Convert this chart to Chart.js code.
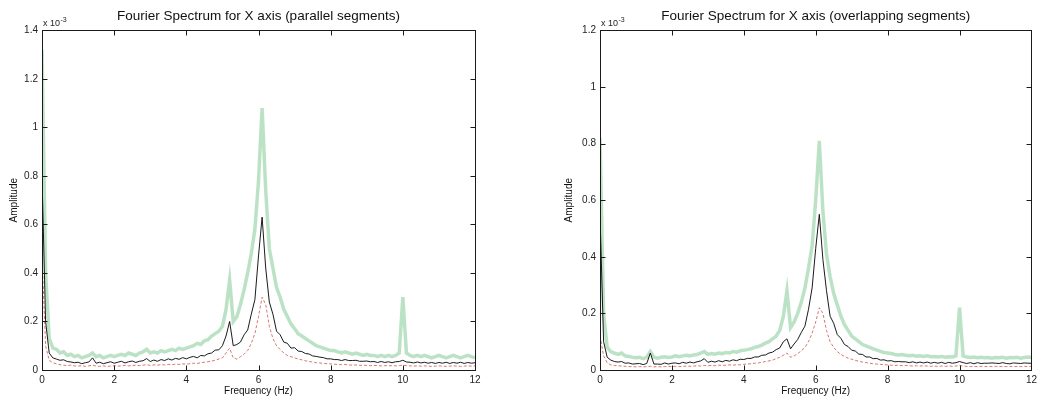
<!DOCTYPE html>
<html>
<head>
<meta charset="utf-8">
<script src="https://cdn.jsdelivr.net/npm/chart.js@4.4.1/dist/chart.umd.min.js"></script>
<style>
  html, body { margin: 0; padding: 0; background: #fff; }
  .panel { position: absolute; top: 0; height: 399px; }
  #p1 { left: 0; width: 490px; }
  #p2 { left: 555px; width: 486px; }
</style>
</head>
<body>
<div class="panel" id="p1"><canvas id="c1"></canvas></div>
<div class="panel" id="p2"><canvas id="c2"></canvas></div>
<script>
// Frequency bins (Hz)
const freq = [
  0.0,0.1,0.2,0.3,0.4,0.5,0.6,0.7,0.8,0.9,
  1.0,1.1,1.2,1.3,1.4,1.5,1.6,1.7,1.8,1.9,
  2.0,2.1,2.2,2.3,2.4,2.5,2.6,2.7,2.8,2.9,
  3.0,3.1,3.2,3.3,3.4,3.5,3.6,3.7,3.8,3.9,
  4.0,4.1,4.2,4.3,4.4,4.5,4.6,4.7,4.8,4.9,
  5.0,5.1,5.2,5.3,5.4,5.5,5.6,5.7,5.8,5.9,
  6.0,6.1,6.2,6.3,6.4,6.5,6.6,6.7,6.8,6.9,
  7.0,7.1,7.2,7.3,7.4,7.5,7.6,7.7,7.8,7.9,
  8.0,8.1,8.2,8.3,8.4,8.5,8.6,8.7,8.8,8.9,
  9.0,9.1,9.2,9.3,9.4,9.5,9.6,9.7,9.8,9.9,
  10.0,10.1,10.2,10.3,10.4,10.5,10.6,10.7,10.8,10.9,
  11.0,11.1,11.2,11.3,11.4,11.5,11.6,11.7,11.8,11.9,
  12.0
];

// Amplitudes in units of 1e-3 — parallel segments
const parallelUpper = [
  1.32,0.40,0.13,0.09,0.085,0.07,0.075,0.06,0.065,0.055,
  0.06,0.05,0.055,0.06,0.07,0.055,0.06,0.05,0.055,0.06,
  0.055,0.06,0.065,0.06,0.07,0.065,0.06,0.07,0.075,0.085,
  0.07,0.075,0.07,0.08,0.075,0.08,0.085,0.08,0.09,0.085,
  0.09,0.095,0.10,0.11,0.105,0.12,0.125,0.14,0.15,0.16,
  0.18,0.25,0.37,0.20,0.22,0.27,0.33,0.40,0.48,0.58,
  0.78,1.08,0.74,0.50,0.42,0.34,0.30,0.25,0.22,0.19,
  0.17,0.15,0.14,0.13,0.12,0.11,0.10,0.095,0.09,0.085,
  0.08,0.08,0.075,0.07,0.075,0.07,0.065,0.07,0.065,0.06,
  0.065,0.06,0.06,0.055,0.06,0.055,0.06,0.055,0.06,0.07,
  0.30,0.07,0.06,0.055,0.06,0.055,0.06,0.055,0.05,0.055,
  0.06,0.055,0.05,0.055,0.06,0.055,0.05,0.055,0.06,0.055,
  0.05
];
const parallelMean = [
  0.80,0.20,0.07,0.05,0.045,0.04,0.042,0.035,0.033,0.03,
  0.032,0.026,0.03,0.033,0.05,0.028,0.032,0.026,0.03,0.034,
  0.028,0.032,0.036,0.029,0.034,0.037,0.031,0.036,0.038,0.047,
  0.035,0.041,0.036,0.043,0.039,0.046,0.041,0.048,0.044,0.051,
  0.046,0.052,0.056,0.05,0.06,0.058,0.067,0.07,0.082,0.083,
  0.10,0.14,0.20,0.10,0.105,0.115,0.145,0.165,0.23,0.29,
  0.47,0.63,0.42,0.28,0.23,0.16,0.145,0.115,0.11,0.09,
  0.092,0.078,0.076,0.068,0.066,0.058,0.056,0.053,0.051,0.046,
  0.046,0.043,0.043,0.039,0.043,0.039,0.039,0.04,0.036,0.036,
  0.037,0.034,0.035,0.031,0.035,0.031,0.034,0.03,0.034,0.035,
  0.04,0.033,0.032,0.029,0.033,0.029,0.032,0.028,0.031,0.027,
  0.031,0.028,0.032,0.027,0.031,0.028,0.032,0.027,0.031,0.028,
  0.03
];
const parallelLower = [
  0.47,0.10,0.04,0.03,0.025,0.022,0.02,0.018,0.02,0.017,
  0.016,0.018,0.015,0.017,0.02,0.016,0.015,0.017,0.015,0.016,
  0.018,0.016,0.017,0.019,0.017,0.018,0.02,0.018,0.02,0.022,
  0.019,0.021,0.02,0.022,0.021,0.023,0.022,0.024,0.023,0.025,
  0.024,0.026,0.028,0.027,0.03,0.032,0.034,0.037,0.04,0.045,
  0.05,0.07,0.09,0.05,0.045,0.055,0.065,0.08,0.11,0.15,
  0.22,0.30,0.27,0.18,0.13,0.10,0.085,0.07,0.06,0.055,
  0.05,0.045,0.042,0.038,0.035,0.033,0.03,0.029,0.027,0.026,
  0.025,0.024,0.023,0.022,0.023,0.021,0.02,0.021,0.019,0.02,
  0.019,0.018,0.019,0.018,0.017,0.018,0.017,0.018,0.017,0.018,
  0.02,0.018,0.017,0.016,0.017,0.016,0.017,0.016,0.015,0.016,
  0.017,0.016,0.015,0.016,0.017,0.016,0.015,0.016,0.017,0.016,
  0.017
];

// Amplitudes in units of 1e-3 — overlapping segments
const overlapUpper = [
  0.82,0.20,0.08,0.065,0.06,0.055,0.06,0.05,0.048,0.045,
  0.043,0.045,0.04,0.045,0.065,0.045,0.042,0.045,0.047,0.044,
  0.046,0.05,0.047,0.05,0.052,0.05,0.053,0.055,0.06,0.065,
  0.055,0.058,0.056,0.06,0.058,0.062,0.06,0.065,0.063,0.068,
  0.07,0.072,0.075,0.08,0.083,0.088,0.095,0.10,0.11,0.12,
  0.14,0.19,0.28,0.15,0.17,0.20,0.24,0.29,0.36,0.44,
  0.60,0.81,0.56,0.41,0.33,0.27,0.23,0.19,0.16,0.14,
  0.12,0.11,0.10,0.09,0.085,0.08,0.075,0.07,0.066,0.062,
  0.06,0.058,0.055,0.053,0.055,0.052,0.05,0.052,0.049,0.05,
  0.048,0.05,0.047,0.048,0.046,0.048,0.045,0.047,0.046,0.05,
  0.22,0.05,0.046,0.044,0.046,0.043,0.045,0.043,0.044,0.042,
  0.044,0.043,0.045,0.042,0.044,0.043,0.045,0.042,0.044,0.046,
  0.044
];
const overlapMean = [
  0.55,0.10,0.045,0.035,0.03,0.028,0.03,0.024,0.025,0.021,
  0.022,0.023,0.019,0.023,0.06,0.021,0.021,0.02,0.025,0.021,
  0.024,0.025,0.022,0.027,0.024,0.028,0.025,0.029,0.032,0.04,
  0.027,0.031,0.028,0.033,0.029,0.034,0.031,0.036,0.033,0.038,
  0.037,0.041,0.041,0.046,0.046,0.052,0.053,0.06,0.063,0.072,
  0.078,0.10,0.11,0.075,0.092,0.108,0.133,0.155,0.215,0.29,
  0.43,0.55,0.39,0.28,0.19,0.165,0.125,0.112,0.09,0.083,
  0.07,0.067,0.056,0.055,0.046,0.046,0.04,0.041,0.035,0.036,
  0.032,0.033,0.029,0.03,0.029,0.029,0.026,0.029,0.025,0.028,
  0.025,0.028,0.024,0.027,0.024,0.027,0.023,0.027,0.024,0.026,
  0.03,0.026,0.023,0.026,0.022,0.026,0.023,0.024,0.024,0.025,
  0.024,0.023,0.026,0.023,0.022,0.025,0.024,0.023,0.025,0.024,
  0.024
];
const overlapLower = [
  0.12,0.05,0.025,0.018,0.016,0.015,0.014,0.013,0.012,0.012,
  0.011,0.012,0.011,0.012,0.013,0.011,0.012,0.011,0.012,0.013,
  0.012,0.013,0.012,0.013,0.014,0.013,0.014,0.015,0.014,0.016,
  0.015,0.016,0.015,0.017,0.016,0.017,0.018,0.017,0.019,0.018,
  0.02,0.021,0.022,0.024,0.025,0.027,0.03,0.032,0.035,0.04,
  0.045,0.052,0.06,0.045,0.05,0.058,0.068,0.08,0.10,0.13,
  0.17,0.22,0.20,0.14,0.10,0.08,0.065,0.055,0.048,0.042,
  0.038,0.034,0.031,0.028,0.026,0.024,0.022,0.021,0.02,0.019,
  0.018,0.017,0.016,0.017,0.015,0.016,0.015,0.014,0.015,0.014,
  0.015,0.014,0.013,0.014,0.013,0.014,0.013,0.014,0.013,0.014,
  0.016,0.014,0.013,0.012,0.013,0.012,0.013,0.012,0.013,0.012,
  0.013,0.012,0.013,0.012,0.013,0.012,0.013,0.012,0.013,0.012,
  0.013
];

const xTicks = [0, 2, 4, 6, 8, 10, 12];
const FONT = "'Liberation Sans', Arial, sans-serif";

// Box frame with inward tick marks on all four sides, plus the exponent label
const framePlugin = {
  id: 'frame',
  afterDraw(chart) {
    const { ctx, chartArea: a, scales } = chart;
    const L = Math.round(a.left) + 0.5, R = Math.round(a.right) + 0.5;
    const T = Math.round(a.top) + 0.5, B = Math.round(a.bottom) + 0.5;
    const len = 5;
    ctx.save();
    ctx.strokeStyle = '#1a1a1a';
    ctx.lineWidth = 1;
    ctx.strokeRect(L, T, R - L, B - T);
    ctx.beginPath();
    scales.x.ticks.forEach(t => {
      const px = Math.round(scales.x.getPixelForValue(t.value)) + 0.5;
      ctx.moveTo(px, B); ctx.lineTo(px, B - len);
      ctx.moveTo(px, T); ctx.lineTo(px, T + len);
    });
    scales.y.ticks.forEach(t => {
      const py = Math.round(scales.y.getPixelForValue(t.value)) + 0.5;
      ctx.moveTo(L, py); ctx.lineTo(L + len, py);
      ctx.moveTo(R, py); ctx.lineTo(R - len, py);
    });
    ctx.stroke();
    // "x 10^-3" exponent label above the y axis
    ctx.fillStyle = '#222';
    ctx.textBaseline = 'alphabetic';
    ctx.textAlign = 'left';
    ctx.font = `9px ${FONT}`;
    const base = a.top - 4;
    ctx.fillText('x 10', a.left + 1, base);
    const w = ctx.measureText('x 10').width;
    ctx.font = `7px ${FONT}`;
    ctx.fillText('-3', a.left + 1 + w + 0.5, base - 4);
    ctx.restore();
  }
};

function pts(values) {
  return freq.map((f, i) => ({ x: f, y: values[i] }));
}

function makeChart(id, title, yMax, yWidth, padRight, upper, mean, lower) {
  return new Chart(document.getElementById(id), {
    type: 'line',
    data: {
      datasets: [
        { data: pts(mean),  borderColor: 'rgba(15,15,15,0.95)', borderWidth: 1 },
        { data: pts(lower), borderColor: 'rgba(200,75,65,0.75)', borderWidth: 1, borderDash: [3, 2] },
        { data: pts(upper), borderColor: 'rgba(95,185,120,0.42)', borderWidth: 3.5 }
      ]
    },
    options: {
      responsive: true,
      maintainAspectRatio: false,
      animation: false,
      layout: { padding: { left: 0, right: padRight, top: 0, bottom: 0 } },
      elements: { point: { radius: 0 }, line: { tension: 0 } },
      plugins: {
        legend: { display: false },
        tooltip: { enabled: false },
        title: {
          display: true,
          text: title,
          fullSize: false,
          color: '#111',
          font: { family: FONT, size: 13.5, weight: 'normal', lineHeight: 1.1 },
          padding: { top: 9, bottom: 6.5 }
        }
      },
      scales: {
        x: {
          type: 'linear',
          min: 0, max: 12,
          afterBuildTicks(s) { s.ticks = xTicks.map(v => ({ value: v })); },
          afterFit(s) { s.height = 29; },
          grid: { display: false, drawTicks: false },
          border: { display: false },
          ticks: {
            color: '#222', padding: 4,
            font: { family: FONT, size: 10 },
            maxRotation: 0,
            callback: v => String(v)
          },
          title: {
            display: true, text: 'Frequency (Hz)', color: '#111',
            font: { family: FONT, size: 10 },
            padding: { top: 0, bottom: 2 }
          }
        },
        y: {
          min: 0, max: yMax,
          afterFit(s) { s.width = yWidth; },
          grid: { display: false, drawTicks: false },
          border: { display: false },
          ticks: {
            stepSize: 0.2, color: '#222', padding: 4,
            font: { family: FONT, size: 10 },
            callback: v => String(Math.round(v * 10) / 10)
          },
          title: {
            display: true, text: 'Amplitude', color: '#111',
            font: { family: FONT, size: 10 },
            padding: { top: 8, bottom: 0 }
          }
        }
      }
    },
    plugins: [framePlugin]
  });
}

makeChart('c1', 'Fourier Spectrum for X axis (parallel segments)', 1.4, 42, 15,
  parallelUpper, parallelMean, parallelLower);
makeChart('c2', 'Fourier Spectrum for X axis (overlapping segments)', 1.2, 45, 4,
  overlapUpper, overlapMean, overlapLower);
</script>
</body>
</html>
